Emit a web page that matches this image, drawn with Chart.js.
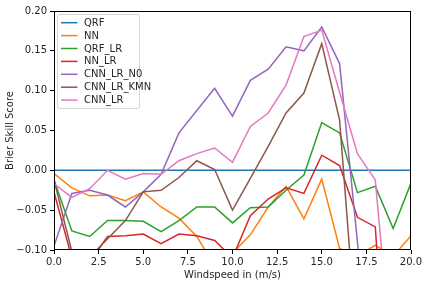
<!DOCTYPE html>
<html>
<head>
<meta charset="utf-8">
<script src="https://cdn.jsdelivr.net/npm/chart.js@4/dist/chart.umd.min.js"></script>
<style>
  html, body { margin: 0; padding: 0; background: #fff; }
  #wrap { width: 426px; height: 288px; position: relative; }
</style>
</head>
<body>
<div id="wrap"><canvas id="chartBss"></canvas></div>
<script>
// Brier skill score per windspeed bin, one list per model
const windspeed = [0, 1, 2, 3, 4, 5, 6, 7, 8, 9, 10, 11, 12, 13, 14, 15, 16, 17, 18, 19, 20];
const names = ['QRF', 'NN', 'QRF_LR', 'NN_LR', 'CNN_LR_N0', 'CNN_LR_KMN', 'CNN_LR'];
const qrf = [0, 0, 0, 0, 0, 0, 0, 0, 0, 0, 0, 0, 0, 0, 0, 0, 0, 0, 0, 0, 0];
const nn = [-0.004, -0.022, -0.032, -0.031, -0.038, -0.027, -0.046, -0.060, -0.083, -0.120, -0.104,
  -0.081, -0.046, -0.020, -0.061, -0.011, -0.098, -0.108, -0.094, -0.108, -0.082];
const qrfLr = [-0.012, -0.076, -0.083, -0.063, -0.063, -0.064, -0.077, -0.063, -0.046, -0.046, -0.066,
  -0.047, -0.046, -0.025, -0.006, 0.060, 0.047, -0.028, -0.020, -0.073, -0.016];
const nnLr = [-0.027, -0.110, -0.115, -0.083, -0.082, -0.080, -0.092, -0.080, -0.082, -0.088, -0.110,
  -0.057, -0.036, -0.022, -0.029, 0.019, 0.006, -0.059, -0.071, -0.400, -0.400];
const cnnN0 = [-0.095, -0.029, -0.025, -0.031, -0.046, -0.027, -0.005, 0.047, 0.075, 0.103, 0.068,
  0.113, 0.127, 0.155, 0.150, 0.180, 0.134, -0.090, -0.300, -0.300, -0.300];
const cnnKmn = [-0.012, -0.102, -0.109, -0.086, -0.063, -0.027, -0.025, -0.009, 0.012, 0.001, -0.050,
  -0.010, 0.030, 0.072, 0.097, 0.159, 0.063, -0.228, -0.400, -0.400, -0.400];
const cnnLr = [-0.017, -0.034, -0.023, 0.000, -0.011, -0.004, -0.005, 0.012, 0.021, 0.028, 0.010,
  0.055, 0.072, 0.107, 0.168, 0.176, 0.098, 0.021, -0.012, -0.260, -0.400];
const yTicks = [-0.10, -0.05, 0.00, 0.05, 0.10, 0.15, 0.20];
const xTicks = [0, 2.5, 5, 7.5, 10, 12.5, 15, 17.5, 20];

const COLORS = ['#1f77b4', '#ff7f0e', '#2ca02c', '#d62728', '#9467bd', '#8c564b', '#e377c2'];
const FONT = { family: '"DejaVu Sans", sans-serif', size: 10 };
const TEXT = '#262626';

const series = [qrf, nn, qrfLr, nnLr, cnnN0, cnnKmn, cnnLr];
const datasets = series.map((vals, i) => ({
  label: names[i],
  data: vals.map((v, k) => ({ x: windspeed[k], y: v })),
  borderColor: COLORS[i],
  backgroundColor: COLORS[i],
  borderWidth: 1.5,
  pointRadius: 0,
  tension: 0,
  order: series.length - i, // later series on top, like matplotlib
}));

// spines + legend box in the top-left corner
const frame = {
  id: 'frame',
  afterDatasetsDraw(chart) {
    const { ctx, chartArea: a } = chart;
    ctx.save();
    ctx.strokeStyle = '#000';
    ctx.lineWidth = 1;
    ctx.strokeRect(a.left + 0.5, a.top + 0.5, a.right - a.left - 1, a.bottom - a.top - 1);

    const bx = a.left + 3.5, by = a.top + 3.5, bw = 82, bh = 94;
    ctx.beginPath();
    ctx.roundRect(bx, by, bw, bh, 2);
    ctx.fillStyle = 'rgba(255,255,255,0.8)';
    ctx.fill();
    ctx.strokeStyle = 'rgba(204,204,204,0.8)';
    ctx.stroke();

    ctx.font = `${FONT.size}px ${FONT.family}`;
    ctx.textBaseline = 'middle';
    ctx.fillStyle = TEXT;
    chart.data.datasets.forEach((ds, i) => {
      const y = a.top + 11.7 + i * 12.9;
      ctx.beginPath();
      ctx.moveTo(a.left + 7, y);
      ctx.lineTo(a.left + 23.5, y);
      ctx.strokeStyle = ds.borderColor;
      ctx.lineWidth = 1.5;
      ctx.stroke();
      ctx.fillText(ds.label, a.left + 30, y + 0.5);
    });
    ctx.restore();
  },
};

const fmtY = (v) => (v < 0 ? '\u2212' : '') + Math.abs(v).toFixed(2);

new Chart(document.getElementById('chartBss'), {
  type: 'line',
  data: { datasets },
  options: {
    responsive: true,
    maintainAspectRatio: false,
    animation: false,
    layout: { padding: { top: 11, right: 15, left: 0, bottom: 0 } },
    plugins: { legend: { display: false }, tooltip: { enabled: false } },
    scales: {
      x: {
        type: 'linear',
        min: 0,
        max: 20,
        afterBuildTicks: (s) => { s.ticks = xTicks.map((v) => ({ value: v })); },
        afterFit: (s) => { s.height = 38; },
        grid: { drawOnChartArea: false, drawTicks: true, tickLength: 4, color: '#000' },
        border: { display: false },
        ticks: { color: TEXT, font: FONT, padding: 2, maxRotation: 0, callback: (v) => v.toFixed(1) },
        title: { display: true, text: 'Windspeed in (m/s)', color: TEXT, font: FONT, padding: { top: 7, bottom: 7 } },
      },
      y: {
        min: -0.1,
        max: 0.2,
        afterBuildTicks: (s) => { s.ticks = yTicks.map((v) => ({ value: v })); },
        afterFit: (s) => { s.width = 54; },
        grid: { drawOnChartArea: false, drawTicks: true, tickLength: 4, color: '#000' },
        border: { display: false },
        ticks: { color: TEXT, font: FONT, padding: 3, callback: fmtY },
        title: { display: true, text: 'Brier Skill Score', color: TEXT, font: FONT, padding: { top: 4, bottom: 4 } },
      },
    },
  },
  plugins: [frame],
});
</script>
</body>
</html>
